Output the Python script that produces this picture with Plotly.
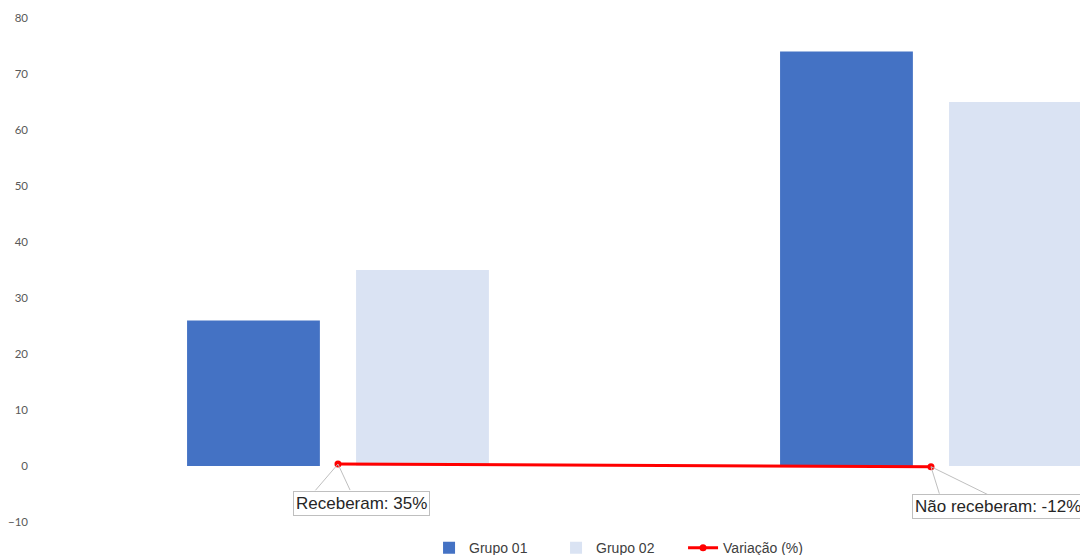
import plotly.graph_objects as go

categories = ["Receberam", "Não receberam"]
grupo_01 = [26, 74]
grupo_02 = [35, 65]
variacao = [0.35, -0.12]
variacao_labels = ["Receberam: 35%", "Não receberam: -12%"]
y_ticks = [-10, 0, 10, 20, 30, 40, 50, 60, 70, 80]

xpos = list(range(len(categories)))
bar_w = 0.224
off = 0.1425

fig = go.Figure()
fig.add_trace(go.Bar(
    x=[p - off for p in xpos], y=grupo_01, width=bar_w, name="Grupo 01",
    marker=dict(color="#4472C4", line=dict(width=0)),
))
fig.add_trace(go.Bar(
    x=[p + off for p in xpos], y=grupo_02, width=bar_w, name="Grupo 02",
    marker=dict(color="#DAE3F3", line=dict(width=0)),
))
fig.add_trace(go.Scatter(
    x=xpos, y=variacao, name="Variação (%)", mode="lines+markers",
    line=dict(color="#FF0000", width=3),
    marker=dict(color="#FF0000", size=7),
))

# label boxes (pixel offsets from the data point) and callout wedge legs
label_shift = [(24, -39), (67, -40)]
wedge_legs = [[(-24, 28), (13, 28)], [(9, 29), (59, 29)]]
for p, v, lab, (xs, ys), legs in zip(xpos, variacao, variacao_labels, label_shift, wedge_legs):
    for ax, ay in legs:
        fig.add_annotation(
            x=p, y=v, text=" ", showarrow=True, arrowhead=0, arrowwidth=1,
            arrowcolor="#BFBFBF", ax=ax, ay=ay, font=dict(size=1),
        )
    fig.add_annotation(
        x=p, y=v, text=lab, showarrow=False, xshift=xs, yshift=ys,
        bordercolor="#BFBFBF", borderwidth=1, borderpad=2, bgcolor="white",
        font=dict(family="Liberation Sans, Arial", size=17, color="#262626"),
    )

fig.update_layout(
    width=1080, height=547,
    margin=dict(l=32, r=0, t=10, b=33, autoexpand=False),
    paper_bgcolor="white", plot_bgcolor="white",
    barmode="overlay", showlegend=True,
    legend=dict(orientation="h", x=0.553, xanchor="center", y=-0.052, yanchor="middle",
                entrywidth=82,
                font=dict(family="Liberation Sans, Arial", size=14, color="#404040"),
                bgcolor="rgba(0,0,0,0)"),
    xaxis=dict(range=[-0.5025, 1.2648], showticklabels=False, showgrid=False,
               zeroline=False, showline=False, automargin=False),
    yaxis=dict(range=[-10, 80], tickvals=y_ticks, showgrid=False, zeroline=False,
               showline=False, ticklabelstandoff=11, automargin=False,
               tickfont=dict(family="Lato, Open Sans", size=11.5, color="#595959")),
)

fig.write_html("out.html")
